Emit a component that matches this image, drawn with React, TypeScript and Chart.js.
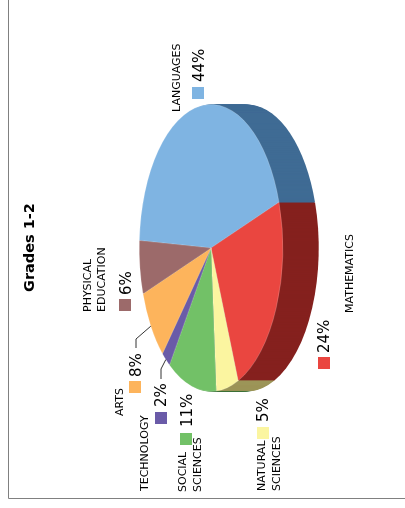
import { useEffect, useRef } from "react";
import { Chart, registerables } from "chart.js";

Chart.register(...registerables);

// Subject shares, clockwise from the left of the pie
const categories = ["LANGUAGES", "MATHEMATICS", "NATURAL SCIENCES", "SOCIAL SCIENCES", "TECHNOLOGY", "ARTS", "PHYSICAL EDUCATION"];
const shares = [44, 24, 5, 11, 2, 8, 6];
const faceColors = ["#7FB4E2", "#EA4640", "#FBF5A0", "#72C167", "#6A5BA8", "#FDB45C", "#9C6A6A"];
const sideColors = ["#3F6B94", "#85201E", "#9C9558", "#3B6E35", "#3A3068", "#9C6C30", "#5C3A3A"];
const title = "Grades 1-2";

// Placement of each rotated callout: label baselines, shared start, percent text and swatch
const calloutLayout = [
  { lines: [180], lineY: 112, pctX: 204, pctY: 82, swatchX: 192, swatchY: 87 },
  { lines: [353], lineY: 313, pctX: 329, pctY: 353, swatchX: 318, swatchY: 357 },
  { lines: [265, 280], lineY: 491, pctX: 268, pctY: 422, swatchX: 257, swatchY: 427 },
  { lines: [186, 201], lineY: 492, pctX: 192, pctY: 427, swatchX: 180, swatchY: 433 },
  { lines: [148], lineY: 491, pctX: 166, pctY: 407, swatchX: 155, swatchY: 412 },
  { lines: [123], lineY: 416, pctX: 141, pctY: 377, swatchX: 129, swatchY: 381 },
  { lines: [91, 105], lineY: 312, pctX: 131, pctY: 295, swatchX: 119, swatchY: 299 },
];
// Elbow and end of the leader lines, keyed by slice index
const leaders: Record<number, number[][]> = {
  4: [[161, 369], [161, 379]],
  5: [[136, 339], [136, 348]],
};

const X_SQUASH = 0.5;
const DEPTH = 36;
const FONT = '"DejaVu Sans"';

function vertical(ctx: CanvasRenderingContext2D, text: string, x: number, y: number, font: string) {
  ctx.save();
  ctx.translate(x, y);
  ctx.rotate(-Math.PI / 2);
  ctx.font = font;
  ctx.fillStyle = "#000";
  ctx.textBaseline = "alphabetic";
  ctx.textAlign = "left";
  ctx.fillText(text, 0, 0);
  ctx.restore();
}

const tiltedPie = {
  id: "tiltedPie",
  beforeDatasetsDraw(chart: Chart) {
    const { ctx } = chart;
    const arcs = chart.getDatasetMeta(0).data as any[];
    const { x: cx, y: cy } = arcs[0];
    // Extruded side, back to front
    for (let d = DEPTH; d >= 1; d--) {
      ctx.save();
      ctx.translate(cx + d, cy);
      ctx.scale(X_SQUASH, 1);
      arcs.forEach((arc, i) => {
        ctx.beginPath();
        ctx.moveTo(0, 0);
        ctx.arc(0, 0, arc.outerRadius, arc.startAngle, arc.endAngle);
        ctx.closePath();
        ctx.fillStyle = sideColors[i];
        ctx.fill();
      });
      ctx.restore();
    }
    // Top face goes through the regular arc drawing, squashed
    ctx.save();
    ctx.translate(cx, cy);
    ctx.scale(X_SQUASH, 1);
    ctx.translate(-cx, -cy);
  },
  afterDatasetsDraw(chart: Chart) {
    const { ctx } = chart;
    ctx.restore();
    const arcs = chart.getDatasetMeta(0).data as any[];

    // Outer frame
    ctx.strokeStyle = "#808080";
    ctx.lineWidth = 1;
    ctx.beginPath();
    ctx.moveTo(8.5, 0);
    ctx.lineTo(8.5, 498.5);
    ctx.lineTo(405, 498.5);
    ctx.stroke();

    vertical(ctx, title, 34, 292, `bold 14.5px ${FONT}`);

    categories.forEach((name, i) => {
      const place = calloutLayout[i];
      ctx.fillStyle = faceColors[i];
      ctx.fillRect(place.swatchX, place.swatchY, 12, 12);
      const words = place.lines.length > 1 ? name.split(" ") : [name];
      words.forEach((word, k) => vertical(ctx, word, place.lines[k], place.lineY, `11px ${FONT}`));
      vertical(ctx, `${shares[i]}%`, place.pctX, place.pctY, `15px ${FONT}`);

      const leader = leaders[i];
      if (leader) {
        const arc = arcs[i];
        const mid = (arc.startAngle + arc.endAngle) / 2;
        ctx.strokeStyle = "#333";
        ctx.lineWidth = 1;
        ctx.beginPath();
        ctx.moveTo(arc.x + arc.outerRadius * X_SQUASH * Math.cos(mid), arc.y + arc.outerRadius * Math.sin(mid));
        leader.forEach(([x, y]) => ctx.lineTo(x, y));
        ctx.stroke();
      }
    });
  },
};

export default function App() {
  const ref = useRef<HTMLCanvasElement>(null);
  useEffect(() => {
    const chart = new Chart(ref.current!, {
      type: "pie",
      data: {
        labels: categories,
        datasets: [{
          data: shares,
          backgroundColor: faceColors,
          borderColor: "rgba(255,255,255,0.25)",
          borderWidth: 1,
        }],
      },
      options: {
        responsive: false,
        animation: false,
        rotation: -87,
        layout: { padding: { left: 67, right: 50, top: 104, bottom: 116 } },
        plugins: { legend: { display: false }, tooltip: { enabled: false }, title: { display: false } },
      },
      plugins: [tiltedPie],
    });
    return () => chart.destroy();
  }, []);
  return (
    <canvas
      ref={ref}
      width={405}
      height={508}
      style={{ position: "fixed", left: 0, top: 0, width: 405, height: 508, background: "#fff" }}
    />
  );
}
